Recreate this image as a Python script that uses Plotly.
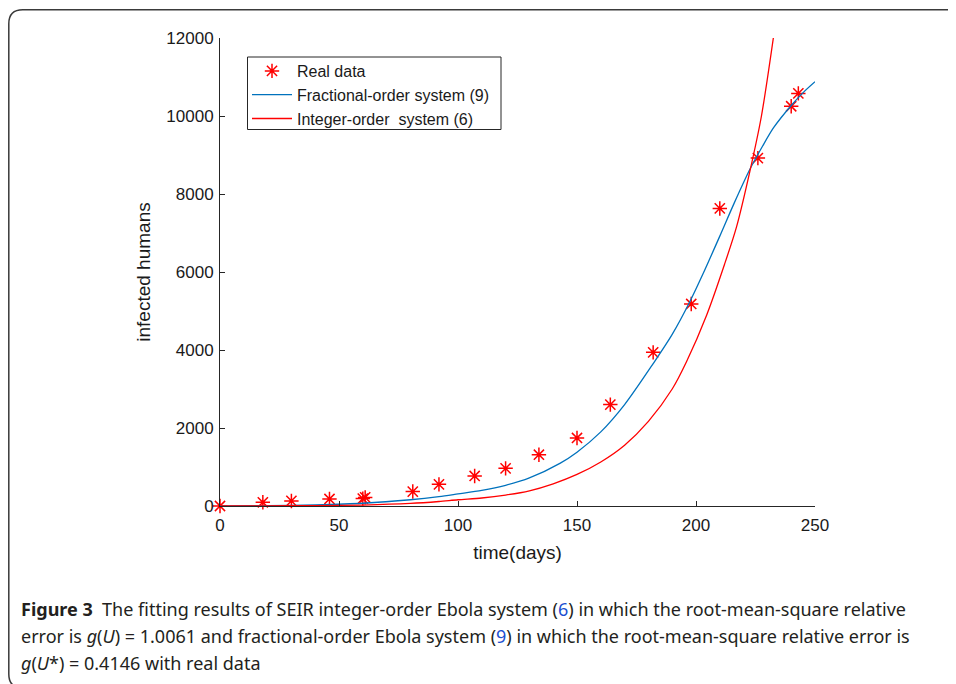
import plotly.graph_objects as go

# ---- data ----
real_days = [0, 18, 30, 46, 60, 61, 81, 92, 107, 120, 134, 150, 164, 182, 198, 210, 226, 240, 243]
real_cases = [0, 95, 130, 180, 190, 220, 370, 555, 770, 965, 1315, 1745, 2600, 3940, 5180, 7630, 8920, 10250, 10580]

frac_days = [0, 20, 40, 60, 80, 92, 100, 110, 120, 130, 143, 150, 160, 170, 182, 190, 197.5, 203, 210, 216, 222.7, 228, 232.6, 240, 245, 250]
frac_vals = [0, 10, 30, 70, 160, 240, 310, 400, 530, 720, 1100, 1380, 1900, 2600, 3650, 4400, 5250, 5960, 6920, 7760, 8640, 9230, 9700, 10270, 10600, 10880]

int_days = [0, 20, 40, 60, 80, 92, 100, 110, 120, 130, 140, 150, 160, 170, 180, 190, 196, 204.5, 212, 217, 222.7, 227.5, 232.5]
int_vals = [0, 5, 12, 25, 65, 115, 160, 205, 280, 390, 570, 810, 1130, 1560, 2170, 3000, 3700, 4900, 6200, 7150, 8600, 10000, 12000]

x_ticks = [0, 50, 100, 150, 200, 250]
y_ticks = [0, 2000, 4000, 6000, 8000, 10000, 12000]
y_tick_text = ["0", "2000", "4000", "6000", "8000", "10000", "12000"]

# page is rendered with an 8px body margin: work in page pixels, convert
OFF = 8
W, H = 956 - OFF, 684 - OFF
PL, PR, PT, PB = 220, 815, 38, 506   # plot area in page pixels
L, R, T, B = PL - OFF, PR - OFF, PT - OFF, PB - OFF


def px(x):
    return (x - PL) / (PR - PL)


def py(y):
    return (PB - y) / (PB - PT)


FONT = "Liberation Sans, Arial, Helvetica, sans-serif"
TXT = "#1a1a1a"

fig = go.Figure()
fig.add_trace(go.Scatter(
    x=real_days, y=real_cases, mode="markers", name="Real data", cliponaxis=False,
    marker=dict(symbol="asterisk-open", size=12, color="#ff0000",
                line=dict(color="#ff0000", width=1.5))))
fig.add_trace(go.Scatter(
    x=frac_days, y=frac_vals, mode="lines", name="Fractional-order system (9)",
    line=dict(color="#0072BD", width=1.3, shape="spline", smoothing=0.8)))
fig.add_trace(go.Scatter(
    x=int_days, y=int_vals, mode="lines", name="Integer-order\u00a0 system (6)",
    line=dict(color="#ff0000", width=1.3, shape="spline", smoothing=0.8)))

axis_font = dict(family=FONT, size=17, color=TXT)

fig.update_xaxes(range=[0, 250], tickvals=x_ticks, ticks="inside", ticklen=5,
                 tickcolor="#262626", showline=True, linecolor="#262626", linewidth=1,
                 showgrid=False, zeroline=False, tickfont=axis_font, ticklabelstandoff=4,
                 title=dict(text="time(days)", font=dict(family=FONT, size=19, color=TXT), standoff=11))
fig.update_yaxes(range=[0, 12000], tickvals=y_ticks, ticktext=y_tick_text, ticks="inside", ticklen=5,
                 tickcolor="#262626", showline=True, linecolor="#262626", linewidth=1,
                 showgrid=False, zeroline=False, tickfont=axis_font, ticklabelstandoff=2,
                 title=dict(text="infected humans", font=dict(family=FONT, size=19, color=TXT), standoff=10))

# rounded border of the figure panel
x0, x1 = px(8.8), px(985)
y0, y1 = py(9.8), py(688)
rx = 14 / (PR - PL)
ry = 14 / (PB - PT)
path = (f"M {x0},{y1 + ry} L {x0},{y0 - ry} Q {x0},{y0} {x0 + rx},{y0} "
        f"L {x1 - rx},{y0} Q {x1},{y0} {x1},{y0 - ry} L {x1},{y1 + ry} "
        f"Q {x1},{y1} {x1 - rx},{y1} L {x0 + rx},{y1} Q {x0},{y1} {x0},{y1 + ry} Z")
fig.add_shape(type="path", path=path, xref="paper", yref="paper",
              line=dict(color="#3a3a3a", width=1.5), layer="below")

# legend frame
fig.add_shape(type="rect", xref="paper", yref="paper",
              x0=px(247.5), x1=px(501), y0=py(57), y1=py(129.5),
              line=dict(color="#262626", width=1), fillcolor="white", layer="below")

cap_font = dict(family="Noto Sans, sans-serif", size=18, color="#231f20")
blue = "#1a4fd0"
lines = [
    f"<b>Figure 3</b>  The fitting results of SEIR integer-order Ebola system (<span style='color:{blue}'>6</span>) in which the root-mean-square relative",
    f"error is <i>g</i>(<i>U</i>) = 1.0061 and fractional-order Ebola system (<span style='color:{blue}'>9</span>) in which the root-mean-square relative error is",
    "<i>g</i>(<i>U</i>*) = 0.4146 with real data",
]
for i, t in enumerate(lines):
    fig.add_annotation(text=t, x=px(19), y=py(609 + 27 * i), xref="paper", yref="paper",
                       xanchor="left", yanchor="middle", showarrow=False, font=cap_font)

fig.update_layout(
    width=W, height=H,
    margin=dict(l=L, r=W - R, t=T, b=H - B),
    paper_bgcolor="white", plot_bgcolor="white",
    showlegend=True,
    legend=dict(x=px(247), y=py(54), xanchor="left", yanchor="top",
                borderwidth=0, bgcolor="rgba(0,0,0,0)",
                font=dict(family=FONT, size=16, color=TXT),
                itemwidth=40, tracegroupgap=0),
)

fig.write_html("out.html")
